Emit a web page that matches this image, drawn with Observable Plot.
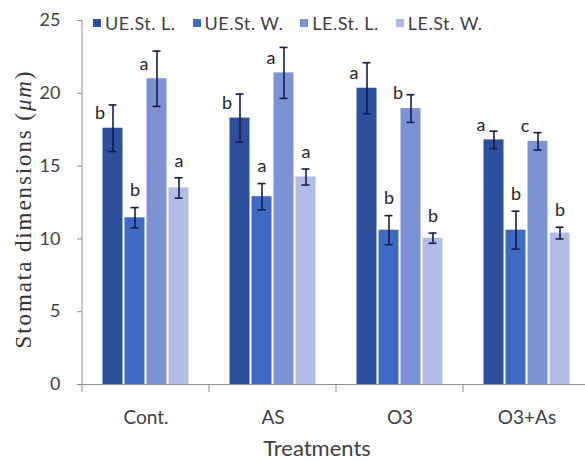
<!DOCTYPE html>
<html>
<head>
<meta charset="utf-8">
<script src="https://cdn.jsdelivr.net/npm/d3@7"></script>
<script src="https://cdn.jsdelivr.net/npm/@observablehq/plot@0.6"></script>
<style>
  body { margin: 0; background: #fff; }
  #chart { position: relative; width: 585px; height: 461px; overflow: hidden; }
  #legend { position: absolute; left: 93px; top: 6px; }
  .lg-swatch { margin-right: 17px !important; }
  .lg-swatch > svg { margin-right: 4px !important; }
</style>
</head>
<body>
<div id="chart"></div>
<script>
// Treatments on the x axis and the four measured series
const treatments = ["Cont.", "AS", "O3", "O3+As"];
const series = ["UE.St. L.", "UE.St. W.", "LE.St. L.", "LE.St. W."];

// Mean stomata dimensions (µm), one value per treatment
const ueStL = [17.6, 18.3, 20.35, 16.8];
const ueStW = [11.45, 12.9, 10.6, 10.6];
const leStL = [21.0, 21.4, 18.95, 16.7];
const leStW = [13.5, 14.25, 10.05, 10.4];

// Error bar half-lengths
const ueStLErr = [1.6, 1.65, 1.75, 0.6];
const ueStWErr = [0.7, 0.9, 1.0, 1.3];
const leStLErr = [1.9, 1.75, 0.95, 0.6];
const leStWErr = [0.7, 0.55, 0.35, 0.4];

// Significance letters
const ueStLSig = ["b", "b", "a", "a"];
const ueStWSig = ["b", "a", "b", "b"];
const leStLSig = ["a", "a", "b", "c"];
const leStWSig = ["a", "a", "b", "b"];

const yTicks = [0, 5, 10, 15, 20, 25];
const colors = ["#2E4F9E", "#3E6AC3", "#7C92D3", "#B1BDE4"];

const means = [ueStL, ueStW, leStL, leStW];
const errs = [ueStLErr, ueStWErr, leStLErr, leStWErr];
const sigs = [ueStLSig, ueStWSig, leStLSig, leStWSig];

const rows = [];
series.forEach((s, j) => {
  treatments.forEach((t, i) => {
    rows.push({
      treatment: t,
      series: s,
      mean: means[j][i],
      lo: means[j][i] - errs[j][i],
      hi: means[j][i] + errs[j][i],
      sig: sigs[j][i],
      lengthSeries: s.endsWith("L.")
    });
  });
});

const axisGray = "#8c8c8c";
const errColor = "#121c48";

const chart = Plot.plot({
  width: 585,
  height: 461,
  marginLeft: 81.5,
  marginRight: -6,
  marginTop: 20,
  marginBottom: 77,
  style: { fontFamily: "Lato, sans-serif", background: "transparent", overflow: "visible" },
  fx: { domain: treatments, padding: 0, axis: null, label: null },
  x: { domain: series, paddingInner: 0.1, paddingOuter: 0.85, axis: null },
  y: { domain: [0, 25], axis: null },
  color: { domain: series, range: colors },
  marks: [
    Plot.axisY({ ticks: yTicks, tickSize: 5, tickPadding: 17, fontSize: 18, stroke: axisGray, fill: "#404040", label: null }),
    Plot.axisFx({ anchor: "bottom", tickSize: 0, tickPadding: 26, fontSize: 19, fill: "#404040", label: null }),
    Plot.barY(rows, { fx: "treatment", x: "series", y: "mean", fill: "series" }),
    Plot.ruleY([0], { stroke: axisGray }),
    Plot.ruleX(rows, { fx: "treatment", x: "series", y1: "lo", y2: "hi", stroke: errColor, strokeWidth: 1.6 }),
    Plot.tickY(rows, { fx: "treatment", x: "series", y: "hi", stroke: errColor, strokeWidth: 1.6, insetLeft: 6, insetRight: 6 }),
    Plot.tickY(rows, { fx: "treatment", x: "series", y: "lo", stroke: errColor, strokeWidth: 1.6, insetLeft: 6, insetRight: 6 }),
    Plot.text(rows.filter(d => d.lengthSeries), { fx: "treatment", x: "series", y: "mean", text: "sig", dx: -13, dy: -15, fontSize: 18, fill: "#262626" }),
    Plot.text(rows.filter(d => !d.lengthSeries), { fx: "treatment", x: "series", y: "hi", text: "sig", dy: -17, fontSize: 18, fill: "#262626" })
  ]
});

const root = document.getElementById("chart");
root.appendChild(chart);

// Axis line, category boundary ticks and axis titles
const svg = d3.select(chart);
const fxScale = chart.scale("fx");
const yScale = chart.scale("y");
const x0 = fxScale.apply(treatments[0]);
const step = fxScale.apply(treatments[1]) - x0;
const y0 = yScale.apply(0);
const yTop = yScale.apply(25);

svg.append("line")
  .attr("x1", x0).attr("x2", x0).attr("y1", yTop).attr("y2", y0)
  .attr("stroke", axisGray);

const bounds = treatments.map(t => fxScale.apply(t)).concat([fxScale.apply(treatments[treatments.length - 1]) + step]);
svg.append("g").selectAll("line").data(bounds).join("line")
  .attr("x1", d => d).attr("x2", d => d)
  .attr("y1", y0).attr("y2", y0 + 8)
  .attr("stroke", axisGray);

const yTitle = svg.append("text")
  .attr("transform", `translate(23,${(yTop + y0) / 2 + 7}) rotate(-90)`)
  .attr("text-anchor", "middle")
  .attr("dominant-baseline", "central")
  .attr("font-family", "'Liberation Serif', serif")
  .attr("font-size", 23)
  .attr("letter-spacing", 1.9)
  .attr("fill", "#333");
yTitle.append("tspan").text("Stomata dimensions (");
yTitle.append("tspan").attr("font-style", "italic").text("μm");
yTitle.append("tspan").text(")");

svg.append("text")
  .attr("x", 317).attr("y", 456)
  .attr("text-anchor", "middle")
  .attr("font-family", "Lato, sans-serif")
  .attr("font-size", 22)
  .attr("fill", "#404040")
  .text("Treatments");

// Series legend across the top of the plot area
const legend = chart.legend("color", {
  swatchSize: 8,
  className: "lg",
  style: { fontFamily: "Lato, sans-serif", fontSize: "18px", color: "#404040", letterSpacing: "0.5px" }
});
legend.id = "legend";
root.appendChild(legend);
</script>
</body>
</html>
